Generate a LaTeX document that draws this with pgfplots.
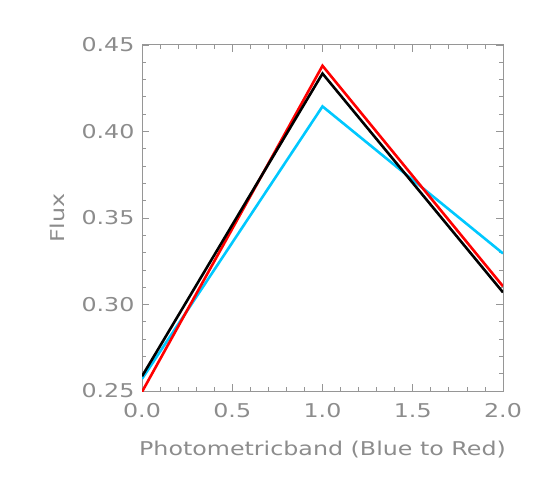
\documentclass[border=0pt]{standalone}
\usepackage{fontspec}
\setmainfont{DejaVu Sans}
\newfontfamily\wide[FakeStretch=1.25]{DejaVu Sans}
\usepackage{pgfplots}
\pgfplotsset{compat=1.18}
\definecolor{txt}{RGB}{140,140,140}
\definecolor{ax}{RGB}{150,150,150}
\definecolor{skyb}{RGB}{0,200,255}
\begin{document}
\begin{tikzpicture}[x=1pt,y=1pt]
\path (0,0) rectangle (545,482);
\begin{axis}[
  at={(142pt,91pt)}, anchor=south west,
  scale only axis, width=361pt, height=346pt,
  xmin=0, xmax=2, ymin=0.25, ymax=0.45,
  xtick={0,0.5,1,1.5,2}, ytick={0.25,0.30,0.35,0.40,0.45},
  minor x tick num=4, minor y tick num=4,
  tick align=inside, major tick length=7pt, minor tick length=4pt,
  axis line style={ax, line width=1pt},
  every tick/.style={ax, line width=0.8pt},
  /pgf/number format/assume math mode=true,
  ticklabel style={font=\wide\fontsize{19}{22}\selectfont, text=txt},
  xticklabel style={yshift=-9pt, /pgf/number format/.cd, fixed, fixed zerofill, precision=1},
  yticklabel style={xshift=-4pt, /pgf/number format/.cd, fixed, fixed zerofill, precision=2},
  xlabel={Photometricband (Blue to Red)}, ylabel={Flux},
  label style={font=\wide\fontsize{19}{22}\selectfont, text=txt},
  xlabel style={at={(axis description cs:0.5,0)}, anchor=center, yshift=-59pt},
  ylabel style={at={(axis description cs:0,0.5)}, anchor=center, yshift=85pt},
  clip=true,
]
\addplot[skyb, line width=2.6pt] coordinates {(0,0.257) (1,0.4145) (2,0.3295)};
\addplot[red, line width=2.6pt] coordinates {(0,0.2495) (1,0.438) (2,0.3105)};
\addplot[black, line width=2.6pt] coordinates {(0,0.2585) (1,0.4335) (2,0.307)};
\end{axis}
\end{tikzpicture}
\end{document}
